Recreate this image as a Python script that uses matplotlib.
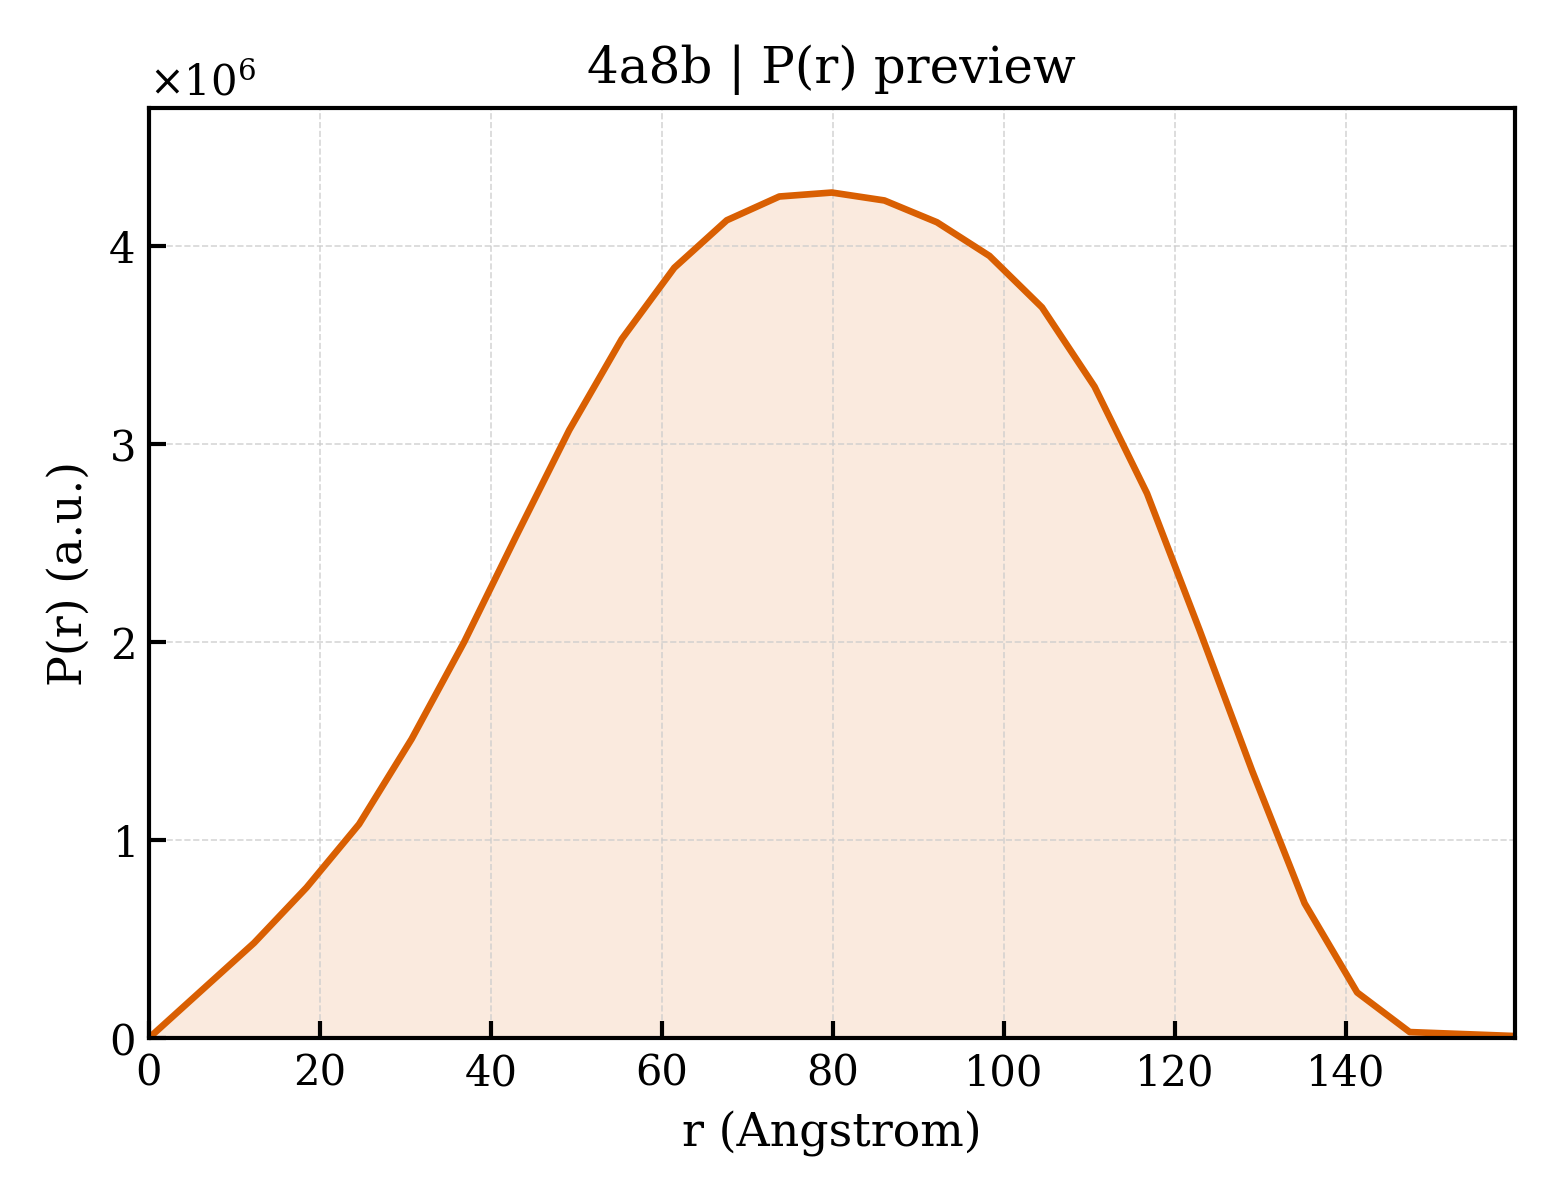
import numpy as np
import matplotlib
matplotlib.use("Agg")
import matplotlib.pyplot as plt

# P(r) sampled on a regular grid (r in Angstrom)
r_step = 6.146
n_points = 27
pr_values = [0.0, 0.24, 0.48, 0.76, 1.08, 1.51, 2.00, 2.54, 3.07, 3.53,
             3.89, 4.13, 4.25, 4.27, 4.23, 4.12, 3.95, 3.69, 3.29, 2.75,
             2.06, 1.35, 0.68, 0.23, 0.03, 0.02, 0.01]

r = np.arange(n_points) * r_step
pr = np.array(pr_values) * 1e6

plt.rcParams["font.family"] = "DejaVu Serif"
plt.rcParams["mathtext.fontset"] = "dejavuserif"

fig, ax = plt.subplots(figsize=(5.2, 4), dpi=300)
color = "#d95f02"
ax.plot(r, pr, color=color, lw=1.6)
ax.fill_between(r, pr, 0, color=color, alpha=0.13, lw=0)

ax.set_xlim(0, r[-1])
ax.set_ylim(0, pr.max() * 1.1)
ax.set_xticks(np.arange(0, 160, 20))
ax.ticklabel_format(axis="y", style="sci", scilimits=(0, 0), useMathText=True)
ax.tick_params(direction="in", length=4, width=1.0, labelsize=10)
for s in ax.spines.values():
    s.set_linewidth(1.0)
ax.grid(True, ls="--", lw=0.4, color="#cccccc", alpha=0.8)

ax.set_xlabel("r (Angstrom)", fontsize=11)
ax.set_ylabel("P(r) (a.u.)", fontsize=11)
ax.set_title("4a8b | P(r) preview", fontsize=12)

fig.subplots_adjust(left=0.0955, right=0.971, top=0.91, bottom=0.135)
fig.savefig("out.png", dpi=300)
